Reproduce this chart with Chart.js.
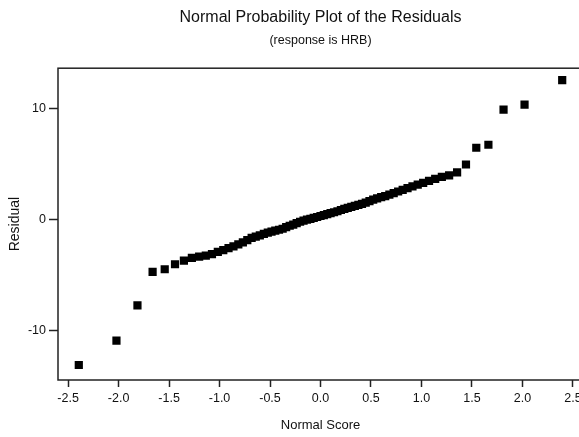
<!DOCTYPE html>
<html>
<head>
<meta charset="utf-8">
<script src="https://cdn.jsdelivr.net/npm/chart.js@4.4.0/dist/chart.umd.min.js"></script>
<style>
  html, body { margin: 0; padding: 0; overflow: hidden; background: #fff; }
  #wrap { width: 579px; height: 437px; overflow: hidden; }
</style>
</head>
<body>
<div id="wrap">
  <canvas id="npp" width="600" height="437"></canvas>
</div>
<script>
    // normal scores (x) and sorted residuals (y)
    const normalScores = [-2.394, -2.021, -1.813, -1.663, -1.543, -1.441, -1.353, -1.274, -1.202, -1.136,
        -1.075, -1.017, -0.963, -0.911, -0.862, -0.814, -0.769, -0.725, -0.682, -0.641,
        -0.601, -0.561, -0.522, -0.485, -0.448, -0.411, -0.375, -0.340, -0.305, -0.270,
        -0.236, -0.202, -0.168, -0.134, -0.100, -0.067, -0.033, 0.000, 0.033, 0.067,
        0.100, 0.134, 0.168, 0.202, 0.236, 0.270, 0.305, 0.340, 0.375, 0.411,
        0.448, 0.485, 0.522, 0.561, 0.601, 0.641, 0.682, 0.725, 0.769, 0.814,
        0.862, 0.911, 0.963, 1.017, 1.075, 1.136, 1.202, 1.274, 1.353, 1.441,
        1.543, 1.663, 1.813, 2.021, 2.394];
    const residuals = [-13.15, -10.95, -7.78, -4.76, -4.52, -4.07, -3.75, -3.50, -3.38, -3.30,
        -3.15, -2.95, -2.80, -2.62, -2.45, -2.28, -2.10, -1.90, -1.70, -1.58,
        -1.46, -1.33, -1.21, -1.12, -1.04, -0.96, -0.87, -0.73, -0.60, -0.49,
        -0.37, -0.24, -0.13, -0.05, 0.03, 0.11, 0.19, 0.28, 0.36, 0.44,
        0.53, 0.62, 0.71, 0.82, 0.92, 1.01, 1.10, 1.20, 1.29, 1.38,
        1.49, 1.62, 1.75, 1.87, 1.98, 2.08, 2.20, 2.34, 2.49, 2.64,
        2.80, 2.95, 3.10, 3.26, 3.45, 3.62, 3.80, 3.95, 4.22, 4.92,
        6.43, 6.70, 9.87, 10.32, 12.52];
    const xTicks = [-2.5, -2.0, -1.5, -1.0, -0.5, 0.0, 0.5, 1.0, 1.5, 2.0, 2.5];
    const yTicks = [-10, 0, 10];

    Chart.defaults.font.family = "'Liberation Sans', Arial, sans-serif";
    Chart.defaults.color = '#111';

    // box around the plot area
    const frame = {
        id: 'frame',
        beforeDatasetsDraw(chart) {
            const { ctx, chartArea: a } = chart;
            ctx.save();
            ctx.strokeStyle = '#222';
            ctx.lineWidth = 1.5;
            ctx.strokeRect(a.left, a.top, a.right - a.left, a.bottom - a.top);
            ctx.restore();
        }
    };

    const points = normalScores.map((x, i) => ({ x: x, y: residuals[i] }));

    new Chart(document.getElementById('npp'), {
        type: 'scatter',
        data: {
            datasets: [{
                data: points,
                pointStyle: 'rect',
                pointRadius: 5.8,
                backgroundColor: '#000',
                borderWidth: 0
            }]
        },
        options: {
            responsive: false,
            animation: false,
            devicePixelRatio: 1,
            layout: { padding: { left: 0, right: 17, top: 0, bottom: 0 } },
            plugins: {
                legend: { display: false },
                tooltip: { enabled: false },
                title: {
                    display: true,
                    fullSize: false,
                    text: 'Normal Probability Plot of the Residuals',
                    font: { size: 16, weight: 'normal' },
                    padding: { top: 8, bottom: 3 }
                },
                subtitle: {
                    display: true,
                    fullSize: false,
                    text: '(response is HRB)',
                    font: { size: 12.5 },
                    padding: { top: 2.5, bottom: 20.5 }
                }
            },
            scales: {
                x: {
                    type: 'linear',
                    min: -2.6,
                    max: 2.6,
                    afterBuildTicks: s => { s.ticks = xTicks.map(v => ({ value: v })); },
                    afterFit: s => { s.height = 57; },
                    border: { display: false },
                    grid: { drawOnChartArea: false, tickLength: 7, tickColor: '#222', tickWidth: 1.5 },
                    ticks: { font: { size: 12.5 }, padding: 4, callback: v => v.toFixed(1) },
                    title: { display: true, text: 'Normal Score', font: { size: 13 }, padding: { top: 4, bottom: 4 } }
                },
                y: {
                    min: -14.5,
                    max: 13.6,
                    afterBuildTicks: s => { s.ticks = yTicks.map(v => ({ value: v })); },
                    afterFit: s => { s.width = 58; },
                    border: { display: false },
                    grid: { drawOnChartArea: false, tickLength: 9, tickColor: '#222', tickWidth: 1.5 },
                    ticks: { font: { size: 12.5 }, padding: 3 },
                    title: { display: true, text: 'Residual', font: { size: 14 }, padding: { top: 7, bottom: 4 } }
                }
            }
        },
        plugins: [frame]
    });
</script>
</body>
</html>
